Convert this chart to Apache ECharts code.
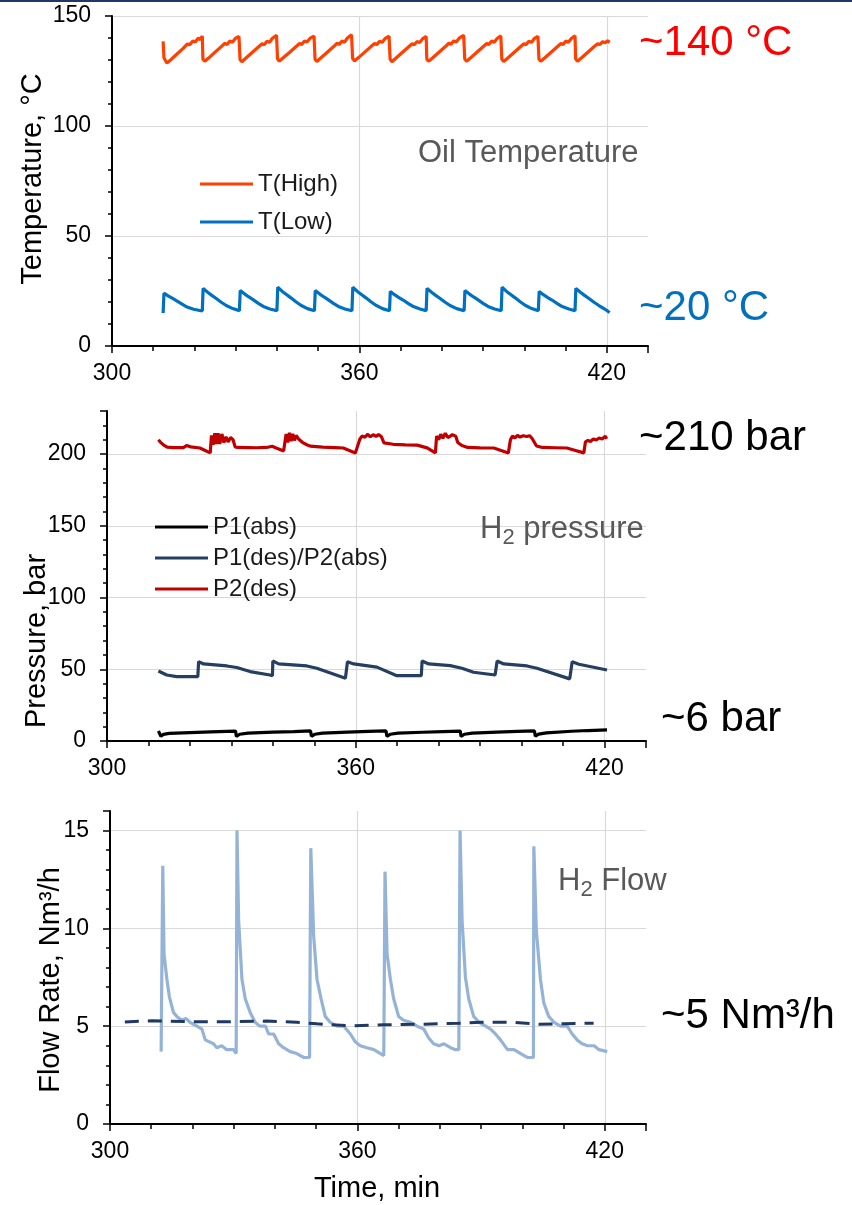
<!DOCTYPE html>
<html>
<head>
<meta charset="utf-8">
<script src="https://cdn.jsdelivr.net/npm/echarts@6/dist/echarts.min.js"></script>
<style>
  html, body { margin: 0; padding: 0; background: #fff; }
  #chart { width: 852px; height: 1205px; }
</style>
</head>
<body>
<div id="chart"></div>
<script>
// ---- data: [time (min), value] ----
const tHigh = [
  [312.4,138.5],[312.6,131],[313.3,128.6],[314.2,130],[315.7,132.6],[317.2,135.2],[318.3,137.3],[318.8,136.9],[319.6,138.6],[320.2,138.2],[320.9,139.9],[321.4,139.3],[321.9,140.9],
  [322.05,130.4],[322.5,129.4],[323.5,131],[325,133.6],[326.5,136.1],[327.4,137.6],[327.9,137],[328.6,138.6],[329.2,138.1],[329.9,139.8],[330.3,139.2],[330.8,140.7],
  [331.05,130.2],[331.5,129.2],[332.5,130.9],[334,133.4],[335.5,135.9],[336.4,137.4],[336.9,136.9],[337.6,138.5],[338.2,138],[338.9,139.9],[339.3,139.3],[339.9,141.2],
  [340.15,130.5],[340.6,129.5],[341.6,131.1],[343.1,133.5],[344.6,136],[345.5,137.5],[346,137],[346.7,138.7],[347.3,138.2],[348,139.8],[348.4,139.3],[349,140.9],
  [349.25,130.3],[349.7,129.3],[350.7,131],[352.2,133.5],[353.7,136],[354.6,137.6],[355.1,137.1],[355.8,138.6],[356.4,138.1],[357.1,140],[357.5,139.4],[358.1,141.5],
  [358.35,130.8],[358.8,129.6],[359.8,131.1],[361.3,133.6],[362.8,136.1],[363.7,137.5],[364.2,137],[364.9,138.5],[365.5,138],[366.2,139.7],[366.6,139.2],[367.2,140.8],
  [367.45,130.3],[367.9,129.2],[368.9,130.9],[370.4,133.4],[371.9,135.9],[372.8,137.4],[373.3,136.9],[374,138.4],[374.6,137.9],[375.3,139.6],[375.7,139.1],[376.2,140.7],
  [376.35,130.4],[376.8,129.4],[377.8,131],[379.3,133.5],[380.8,136],[381.7,137.6],[382.2,137.1],[382.9,138.7],[383.5,138.2],[384.2,139.9],[384.6,139.3],[385.3,141.2],
  [385.55,130.5],[386,129.4],[387,131],[388.5,133.5],[390,136],[390.9,137.5],[391.4,137],[392.1,138.6],[392.7,138.1],[393.4,139.8],[393.8,139.3],[394.3,141],
  [394.55,130.3],[395,129.3],[396,130.9],[397.5,133.4],[399,135.9],[399.9,137.4],[400.4,136.9],[401.1,138.5],[401.7,138],[402.4,139.7],[402.8,139.1],[403.3,140.8],
  [403.55,130.4],[404,129.4],[405,131],[406.5,133.5],[408,136],[408.9,137.5],[409.4,137],[410.1,138.6],[410.7,138.1],[411.4,139.8],[411.8,139.3],[412.3,141],
  [412.45,130.5],[412.9,129.4],[413.9,131],[415.4,133.5],[416.9,136],[417.8,137.4],[418.3,137],[419,138.3],[419.6,137.8],[420.2,138.7],[420.7,138]
];
const tLow = [
  [312.4,15.0],[312.6,24.0],[313.7,22.7],[314.7,21.6],[315.7,20.5],[317.0,19.0],[318.2,17.7],[319.8,16.7],[321.9,15.9],
  [322.1,26.2],[323.2,24.4],[324.2,23.0],[325.2,21.7],[326.5,19.9],[327.7,18.4],[329.3,17.0],[330.9,16.0],
  [331.1,25.2],[332.2,23.6],[333.2,22.3],[334.2,21.1],[335.5,19.4],[336.7,18.0],[338.3,16.8],[340.0,16.0],
  [340.2,26.7],[341.3,24.8],[342.3,23.4],[343.3,22.0],[344.6,20.1],[345.8,18.5],[347.4,17.0],[349.1,16.0],
  [349.3,25.2],[350.4,23.6],[351.4,22.3],[352.4,21.1],[353.7,19.4],[354.9,18.0],[356.5,16.8],[358.2,16.0],
  [358.4,26.7],[359.5,24.8],[360.5,23.4],[361.5,22.0],[362.8,20.1],[364.0,18.5],[365.6,17.0],[367.3,16.0],
  [367.5,24.8],[368.6,23.2],[369.6,22.0],[370.6,20.9],[371.9,19.3],[373.1,17.9],[374.7,16.8],[376.2,16.0],
  [376.4,26.2],[377.5,24.4],[378.5,23.0],[379.5,21.7],[380.8,19.9],[382.0,18.4],[383.6,17.0],[385.4,16.0],
  [385.6,25.2],[386.7,23.6],[387.7,22.3],[388.7,21.1],[390.0,19.4],[391.2,18.0],[392.8,16.8],[394.4,16.0],
  [394.6,26.7],[395.7,24.8],[396.7,23.4],[397.7,22.0],[399.0,20.1],[400.2,18.5],[401.8,17.0],[403.4,16.0],
  [403.6,24.8],[404.7,23.2],[405.7,22.0],[406.7,20.9],[408.0,19.3],[409.2,17.9],[410.8,16.8],[412.3,16.0],
  [412.5,26.2],[413.6,24.4],[414.6,23.0],[415.6,21.7],[416.9,19.9],[418.1,18.4],[419.5,16.8],[420.7,15.2]
];

const p1Abs = [
  [312.4,7],[312.6,6.5],[313.0,3.3],[313.6,4.6],[315,5.3],[320,5.9],[325,6.4],[331.0,6.9],
  [331.2,3.2],[332.0,4.7],[334,5.5],[340,6.2],[345,6.6],[349.1,7],
  [349.3,3.3],[350.1,4.7],[352,5.5],[358,6.2],[363,6.7],[367.3,7],
  [367.5,3.3],[368.3,4.7],[370.2,5.5],[376,6.1],[381,6.6],[385.2,6.9],
  [385.4,3.2],[386.2,4.7],[388.1,5.5],[394,6.2],[399,6.7],[403.1,7],
  [403.3,3.3],[404.1,4.8],[406,5.7],[412,6.8],[416,7.3],[420.6,7.7]
];
const p1DesP2Abs = [
  [312.4,48.8],[314.4,46],[316.8,44.9],[321.9,44.9],
  [322.1,55.3],[323.3,53.7],[328.9,52.3],[331.3,51.2],[334.5,48.4],[339.3,46],[339.9,45.5],
  [340.0,55.8],[341.4,53.7],[348.2,52.3],[350.6,50.7],[357.5,43.7],
  [358.0,55.3],[359.5,53.7],[365.1,51.5],[369.9,45.5],[375.8,45.5],
  [376.0,55.8],[377.6,53.7],[382.8,52.5],[385.6,50.7],[388.4,47.9],[393.6,46],
  [394.1,55.8],[395.7,53.7],[401.3,52.3],[403.7,50.7],[411.6,43.3],
  [412.2,55.3],[413.8,53.5],[420.6,49.5]
];
const p2Des = [
  [312.4,209.9],[312.8,208.5],[313.6,206.4],[314.5,204.8],[316,204.5],[318.4,204.5],[319.2,205.9],[320.2,205],[322.4,204.2],[324.9,200.8],
  [325.2,213],[325.6,206.5],[326.0,214.5],[326.4,207],[326.8,214.5],[327.2,207],[327.7,214],[328.2,208],[328.7,212],[329.2,208.5],[329.8,211.5],[330.4,210],[330.9,205],[331.5,204.6],[334,204.5],[336,204.4],[338.5,204.6],[339.8,205.4],[340.8,204.2],[342.6,202.2],
  [343.2,214],[343.6,208],[344,214.8],[344.4,209],[344.8,214],[345.2,209.5],[345.6,213],[346.2,210.5],[346.6,211.2],[347.2,208],[348.2,206.5],[349,205.5],[352,204.8],[355,204.5],[357,204.2],[359.9,200.8],
  [361,210.5],[361.5,212.5],[362.2,211.8],[362.9,213.8],[363.5,212],[364.2,213.5],[364.9,212.3],[365.5,213.6],[366.2,212],[366.8,207.8],[369,206.8],[372,206.4],[374.8,206.2],[377.2,204.3],[379.2,200.8],
  [379.5,212.5],[380,210],[380.5,213.8],[381,211],[381.6,214.5],[382.2,211.5],[382.8,212.5],[383.3,213.5],[384.1,212.5],[384.6,208],[385.6,205.9],[387,204.6],[390,204.3],[393.3,204.2],[396.8,200.8],
  [397.3,210],[397.8,212.5],[398.4,211.2],[399,213],[399.6,211.8],[400.4,212.8],[401.2,212.2],[401.9,212.8],[402.5,211],[403.6,205.6],[405,204.6],[408,204.4],[410.9,204.2],[413,202.5],[415,200.8],
  [415.4,208.5],[416,209.5],[416.6,208.8],[417.3,210.5],[418,209.8],[418.7,211.2],[419.4,210.5],[420.2,212.5],[420.5,210.5]
];

const h2Flow = [
  [312.4,3.7],[312.8,13.2],[313.1,8.7],[313.8,7.4],[314.4,6.5],[315.4,5.7],[316.2,5.5],[317.4,5.3],[318.4,5.4],[319.4,5.2],[321.1,5.0],[322.3,4.85],[323.1,4.3],[325.1,4.1],[325.9,3.9],[327.1,4.0],[328.3,3.8],[330.0,3.8],[330.6,3.6],
  [330.8,15.0],[331.2,10.4],[332.0,7.4],[332.8,6.4],[334.0,5.7],[335.2,5.2],[336.4,5.0],[337.7,5.0],[338.5,4.6],[339.7,4.6],[340.9,4.1],[342.1,3.9],[343.7,3.7],[345.3,3.6],[347.0,3.4],[348.4,3.4],
  [348.7,14.1],[349.4,9.6],[350.2,7.4],[351.2,6.4],[352.2,5.5],[353.4,5.2],[355.1,5.0],[356.7,5.0],[358.3,4.6],[359.5,4.2],[360.7,4.0],[362.3,3.9],[364.0,3.8],[366.4,3.5],
  [366.7,12.9],[367.2,8.7],[368.0,7.4],[368.8,6.4],[370.0,5.5],[371.2,5.3],[372.9,5.2],[374.5,5.0],[376.1,4.85],[377.3,4.4],[378.5,4.1],[379.8,4.0],[381.0,4.1],[382.6,3.9],[383.8,3.8],[384.6,3.8],
  [384.9,15.0],[385.4,10.4],[386.2,7.5],[387.0,6.4],[388.2,5.5],[389.5,5.2],[391.1,5.0],[392.3,4.85],[393.5,4.6],[394.7,4.3],[396.4,3.8],[398.0,3.8],[399.6,3.6],[401.2,3.4],[402.7,3.4],
  [402.8,14.2],[403.4,9.9],[404.4,7.4],[405.2,6.2],[406.4,5.5],[407.7,5.2],[409.3,5.0],[410.9,5.0],[412.1,4.6],[413.3,4.3],[414.5,4.1],[415.8,4.0],[417.4,4.0],[418.6,3.8],[420.6,3.7]
];
const h2FlowAvg = [
  [303.6,5.22],[310.1,5.28],[319.4,5.23],[330.0,5.23],[338.0,5.26],[345.3,5.2],[350.2,5.12],[358.3,5.02],[366.4,5.07],
  [376,5.1],[384.5,5.15],[390,5.2],[398,5.2],[404,5.1],[410,5.13],[417.3,5.15]
];

// tick labels
const timeTicks = [300, 360, 420];
const tempTicks = [0, 50, 100, 150];
const pressureTicks = [0, 50, 100, 150, 200];
const flowTicks = [0, 5, 10, 15];

const font = 'Liberation Sans, Arial, sans-serif';
const gridColor = '#d9d9d9';

// thin axis carrying the axis line and the small ticks
function minorAxis(grid, pos, min, max, step) {
  return {
    type: 'value', gridIndex: grid, position: pos, min: min, max: max, interval: step,
    axisLine: { show: true, onZero: false, lineStyle: { color: '#000', width: 2 } },
    axisTick: { show: true, length: pos === 'left' ? 4 : 5, lineStyle: { color: '#000', width: 1.5 } },
    axisLabel: { show: false },
    splitLine: { show: false }
  };
}

// overlay axis with the long ticks, labels and grid lines
function majorAxis(grid, pos, min, max, step, ticks, maxLine) {
  return {
    type: 'value', gridIndex: grid, position: pos, min: min, max: max, interval: step,
    axisLine: { show: false, onZero: false },
    axisTick: { show: true, length: 7, lineStyle: { color: '#000', width: 1.5 } },
    axisLabel: {
      show: true, margin: pos === 'left' ? 21 : 16, fontSize: 23, color: '#000', fontFamily: font,
      formatter: v => (ticks.includes(v) ? String(v) : '')
    },
    splitLine: { show: true, showMinLine: false, showMaxLine: maxLine, lineStyle: { color: gridColor, width: 1.2 } }
  };
}

const grids = [
  { left: 112, top: 16, width: 536, height: 330 },
  { left: 107, top: 411, width: 539, height: 330 },
  { left: 110, top: 811, width: 536, height: 313 }
].map(g => Object.assign({ containLabel: false, outerBoundsMode: 'none' }, g));

const xAxes = [];
const yAxes = [];
[0, 1, 2].forEach(i => {
  xAxes.push(minorAxis(i, 'bottom', 300, 430, 10));
  xAxes.push(majorAxis(i, 'bottom', 300, 430, 60, timeTicks, false));
});
yAxes.push(minorAxis(0, 'left', 0, 150, 10), majorAxis(0, 'left', 0, 150, 50, tempTicks, true));
yAxes.push(minorAxis(1, 'left', 0, 230, 10), majorAxis(1, 'left', 0, 230, 50, pressureTicks, false));
yAxes.push(minorAxis(2, 'left', 0, 16, 1), majorAxis(2, 'left', 0, 16, 5, flowTicks, false));

function line(name, data, grid, color, extra) {
  return Object.assign({
    name: name, type: 'line', data: data,
    xAxisIndex: grid * 2, yAxisIndex: grid * 2,
    symbol: 'none', color: color,
    lineStyle: { color: color, width: 3.2 },
    z: 3
  }, extra || {});
}

const legendText = { fontSize: 24, color: '#1a1a1a', fontFamily: font, lineHeight: 24 };

const sub = {
  a: { fontSize: 31, lineHeight: 40, fontFamily: font, fill: '#595959' },
  b: { fontSize: 22, lineHeight: 22, fontFamily: font, fill: '#595959', verticalAlign: 'bottom' }
};

function label(x, y, text, size, color, rotate, align) {
  return {
    type: 'text', x: x, y: y, rotation: rotate ? Math.PI / 2 : 0, z: 10,
    style: {
      text: text, fontSize: size, fontFamily: font, fill: color,
      align: align || (rotate ? 'center' : 'left'), verticalAlign: 'middle'
    }
  };
}

const option = {
  animation: false,
  backgroundColor: '#fff',
  grid: grids,
  xAxis: xAxes,
  yAxis: yAxes,
  legend: [
    {
      data: ['T(High)', 'T(Low)'], orient: 'vertical', left: 195, top: 167,
      icon: 'rect', itemWidth: 53, itemHeight: 3, itemGap: 14, textStyle: legendText
    },
    {
      data: ['P1(abs)', 'P1(des)/P2(abs)', 'P2(des)'], orient: 'vertical', left: 150, top: 510,
      icon: 'rect', itemWidth: 53, itemHeight: 3, itemGap: 7, textStyle: legendText
    }
  ],
  series: [
    line('T(High)', tHigh, 0, '#FF4000'),
    line('T(Low)', tLow, 0, '#0070C0'),
    line('P1(abs)', p1Abs, 1, '#000000'),
    line('P1(des)/P2(abs)', p1DesP2Abs, 1, '#243F60'),
    line('P2(des)', p2Des, 1, '#C00000'),
    line('H2 flow', h2Flow, 2, '#95B3D7'),
    line('H2 flow avg', h2FlowAvg, 2, '#1F3864', { lineStyle: { color: '#1F3864', width: 3, type: [14, 9] }, z: 4 })
  ],
  graphic: [
    { type: 'rect', shape: { x: 0, y: 0, width: 852, height: 2 }, style: { fill: '#1F3864' } },
    label(639, 43, '~140 °C', 42, '#FF0000'),
    label(639, 308, '~20 °C', 42, '#0070C0'),
    label(639, 438, '~210 bar', 42, '#000'),
    label(661, 719, '~6 bar', 42, '#000'),
    label(661, 1016, '~5 Nm³/h', 42, '#000'),
    label(418, 153, 'Oil Temperature', 31, '#595959'),
    {
      type: 'text', x: 480, y: 529, z: 10,
      style: { text: '{a|H}{b|2}{a| pressure}', rich: sub, verticalAlign: 'middle', align: 'left' }
    },
    {
      type: 'text', x: 558, y: 881, z: 10,
      style: { text: '{a|H}{b|2}{a| Flow}', rich: sub, verticalAlign: 'middle', align: 'left' }
    },
    label(33, 179, 'Temperature, °C', 29, '#000', true),
    label(37, 641, 'Pressure, bar', 29, '#000', true),
    label(51, 980, 'Flow Rate, Nm³/h', 29, '#000', true),
    label(377, 1189, 'Time, min', 29, '#000', false, 'center')
  ]
};

const myChart = echarts.init(document.getElementById('chart'));
myChart.setOption(option);
</script>
</body>
</html>
